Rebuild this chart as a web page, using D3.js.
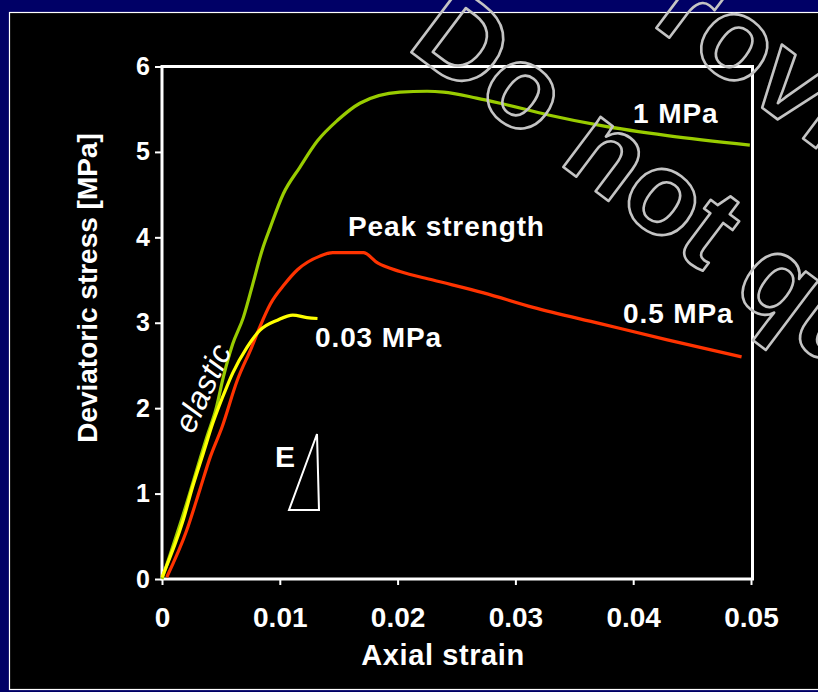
<!DOCTYPE html>
<html>
<head>
<meta charset="utf-8">
<script src="https://cdn.jsdelivr.net/npm/d3@7"></script>
<style>
  html, body { margin: 0; padding: 0; background: #000066; }
  svg { display: block; }
  text { font-family: "Liberation Sans", Arial, sans-serif; }
</style>
</head>
<body>
<svg id="chart" width="818" height="692"></svg>
<script>
// Triaxial test curves: deviatoric stress vs. axial strain at three confining pressures
const strain1MPa = [0, 0.0019, 0.0038, 0.0046, 0.0052, 0.0060, 0.0069, 0.0077, 0.0085, 0.0092, 0.0103, 0.0117, 0.0132, 0.0149, 0.0168, 0.0202, 0.0225, 0.0239, 0.0267, 0.0287, 0.0329, 0.0372, 0.0429, 0.0499];
const stress1MPa = [0, 0.80, 1.66, 2.00, 2.36, 2.75, 3.06, 3.45, 3.85, 4.12, 4.51, 4.82, 5.13, 5.37, 5.57, 5.70, 5.71, 5.70, 5.63, 5.57, 5.43, 5.31, 5.19, 5.08];

const strain05MPa = [0.0004, 0.0021, 0.0032, 0.0041, 0.0051, 0.0064, 0.0076, 0.0083, 0.0092, 0.0104, 0.0115, 0.0134, 0.0145, 0.0171, 0.0183, 0.0202, 0.0230, 0.0273, 0.0315, 0.0372, 0.0429, 0.0492];
const stress05MPa = [0.02, 0.57, 1.04, 1.43, 1.78, 2.33, 2.71, 2.95, 3.22, 3.45, 3.62, 3.78, 3.82, 3.82, 3.70, 3.60, 3.50, 3.35, 3.18, 2.99, 2.80, 2.60];

const strain003MPa = [0, 0.0018, 0.0026, 0.0035, 0.0043, 0.0055, 0.0060, 0.0072, 0.0083, 0.0098, 0.0111, 0.0123, 0.0132];
const stress003MPa = [0.02, 0.69, 1.08, 1.47, 1.82, 2.25, 2.41, 2.71, 2.91, 3.03, 3.09, 3.06, 3.05];

const xTicks = [0, 0.01, 0.02, 0.03, 0.04, 0.05];
const xTickLabels = ["0", "0.01", "0.02", "0.03", "0.04", "0.05"];
const yTicks = [0, 1, 2, 3, 4, 5, 6];

const series = [
  { name: "1 MPa", strain: strain1MPa, stress: stress1MPa, color: "#99cc00" },
  { name: "0.5 MPa", strain: strain05MPa, stress: stress05MPa, color: "#ff3300" },
  { name: "0.03 MPa", strain: strain003MPa, stress: stress003MPa, color: "#ffff00" }
];

const svg = d3.select("#chart");
const W = 818, H = 692;

// slide background: navy page with a black panel
svg.append("rect").attr("width", W).attr("height", H).attr("fill", "#000066");
svg.append("rect").attr("x", 9.5).attr("y", 12.5).attr("width", W).attr("height", 677)
  .attr("fill", "#000").attr("stroke", "#fff").attr("stroke-width", 1.2);

const plot = { left: 162, top: 66.5, right: 752.5, bottom: 579 };
const x = d3.scaleLinear().domain([0, 0.05]).range([plot.left, plot.right - 1.5]);
const y = d3.scaleLinear().domain([0, 6]).range([plot.bottom, plot.top]);

// frame
svg.append("rect")
  .attr("x", plot.left).attr("y", plot.top)
  .attr("width", plot.right - plot.left).attr("height", plot.bottom - plot.top)
  .attr("fill", "none").attr("stroke", "#fff").attr("stroke-width", 3);

// axes
const xAxis = d3.axisBottom(x).tickValues(xTicks).tickFormat((d, i) => xTickLabels[i])
  .tickSizeInner(6).tickSizeOuter(0).tickPadding(22);
const gx = svg.append("g").attr("transform", `translate(0,${plot.bottom})`).call(xAxis);
gx.select(".domain").remove();
gx.selectAll("line").attr("stroke", "#fff").attr("stroke-width", 2);
gx.selectAll("text").attr("fill", "#fff").attr("font-size", 28).attr("font-weight", "bold")
  .attr("dy", "0.71em");

const yAxis = d3.axisLeft(y).tickValues(yTicks).tickFormat(d3.format("d"))
  .tickSizeInner(7).tickSizeOuter(0).tickPadding(5);
const gy = svg.append("g").attr("transform", `translate(${plot.left},0)`).call(yAxis);
gy.select(".domain").remove();
gy.selectAll("line").attr("stroke", "#fff").attr("stroke-width", 2);
gy.selectAll("text").attr("fill", "#fff").attr("font-size", 25).attr("font-weight", "bold");

// axis titles
svg.append("text").attr("x", 443).attr("y", 665).attr("text-anchor", "middle")
  .attr("fill", "#fff").attr("font-size", 29).attr("font-weight", "bold")
  .attr("letter-spacing", 0.6).text("Axial strain");
svg.append("text").attr("transform", "translate(97,288) rotate(-90)").attr("text-anchor", "middle")
  .attr("fill", "#fff").attr("font-size", 28).attr("font-weight", "bold").text("Deviatoric stress [MPa]");

// curves
const line = d3.line().x(d => x(d[0])).y(d => y(d[1])).curve(d3.curveMonotoneX);
series.forEach(s => {
  const pts = s.strain.map((v, i) => [v, s.stress[i]]);
  svg.append("path").datum(pts).attr("d", line)
    .attr("fill", "none").attr("stroke", s.color).attr("stroke-width", 3.2)
    .attr("stroke-linejoin", "round");
});

// annotations
const label = (tx, ty, t, size) => svg.append("text").attr("x", tx).attr("y", ty)
  .attr("fill", "#fff").attr("font-size", size).attr("font-weight", "bold")
  .attr("letter-spacing", 0.9).text(t);
label(633, 123, "1 MPa", 28);
label(348, 236, "Peak strength", 28);
label(623, 323, "0.5 MPa", 28);
label(315, 347, "0.03 MPa", 28);
label(275, 467, "E", 30).attr("letter-spacing", 0);

svg.append("text").attr("transform", "translate(193,435) rotate(-65)")
  .attr("fill", "#fff").attr("font-size", 32).attr("font-style", "italic")
  .attr("letter-spacing", 0.4).text("elastic");

// modulus triangle
svg.append("path")
  .attr("d", d3.line()([[317, 434], [289, 510], [319, 510]]) + "Z")
  .attr("fill", "none").attr("stroke", "#fff").attr("stroke-width", 2).attr("stroke-linejoin", "miter");

// outlined watermark
const wm = svg.append("g").attr("transform", "translate(405,47.5) rotate(37)")
  .attr("fill", "none").attr("stroke", "#c4c4c4").attr("stroke-width", 2.6)
  .attr("stroke-linejoin", "round").attr("font-size", 118).attr("font-weight", "bold");
wm.append("text").attr("x", 102).attr("y", -167).text("Provisional");
wm.append("text").attr("x", 0).attr("y", 0).text("Do not quote");
</script>
</body>
</html>
